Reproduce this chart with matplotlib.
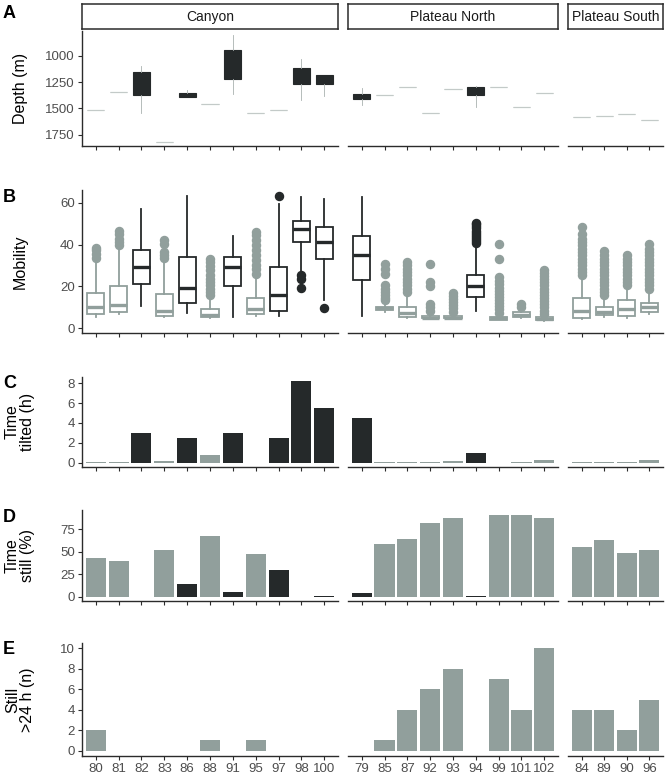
import matplotlib
matplotlib.use('Agg')
import matplotlib.pyplot as plt

plt.rcParams['font.family'] = ['Liberation Sans', 'DejaVu Sans']

# ---------------- data ----------------
regions = ['Canyon', 'Plateau North', 'Plateau South']
region_sizes = [11, 9, 4]
ids = [80, 81, 82, 83, 86, 88, 91, 95, 97, 98, 100,
       79, 85, 87, 92, 93, 94, 99, 101, 102,
       84, 89, 90, 96]
tilted = [0, 0, 1, 0, 1, 0, 1, 0, 1, 1, 1,
          1, 0, 0, 0, 0, 1, 0, 0, 0,
          0, 0, 0, 0]

# depth (m): whisker low, q1, median, q3, whisker high
depth_lo = [1513, 1346, 1094, 1819, 1324, 1459, 804, 1539, 1513, 1034, 1180,
            1308, 1374, 1293, 1539, 1318, 1285, 1299, 1488, 1350,
            1582, 1577, 1554, 1608]
depth_q1 = [1513, 1346, 1157, 1819, 1353, 1459, 946, 1539, 1513, 1113, 1182,
            1365, 1374, 1293, 1539, 1318, 1293, 1299, 1488, 1350,
            1582, 1577, 1554, 1608]
depth_med = [1513, 1346, 1260, 1819, 1370, 1459, 1100, 1539, 1513, 1190, 1220,
             1390, 1374, 1293, 1539, 1318, 1330, 1299, 1488, 1350,
             1582, 1577, 1554, 1608]
depth_q3 = [1513, 1346, 1371, 1819, 1390, 1459, 1220, 1539, 1513, 1270, 1267,
            1409, 1374, 1293, 1539, 1318, 1371, 1299, 1488, 1350,
            1582, 1577, 1554, 1608]
depth_hi = [1513, 1346, 1545, 1819, 1395, 1459, 1365, 1539, 1513, 1419, 1378,
            1466, 1374, 1293, 1539, 1318, 1482, 1299, 1488, 1350,
            1582, 1577, 1554, 1608]

# mobility
mob_lo = [5.5, 7.0, 10.6, 5.5, 7.4, 5.0, 5.3, 6.0, 6.0, 26.1, 13.3,
          6.1, 8.0, 5.0, 4.5, 4.5, 8.5, 4.0, 5.0, 3.7,
          4.5, 5.5, 5.0, 7.0]
mob_q1 = [6.7, 8.0, 21.0, 6.0, 11.9, 5.3, 20.0, 6.9, 8.2, 41.1, 33.0,
          23.2, 8.8, 5.6, 4.7, 4.7, 14.9, 4.2, 5.3, 4.0,
          5.0, 6.4, 5.8, 7.7]
mob_med = [10.4, 10.9, 29.1, 8.2, 19.2, 6.2, 29.1, 9.1, 16.0, 47.4, 41.3,
           35.2, 9.6, 7.2, 5.0, 5.0, 20.4, 4.8, 6.5, 4.5,
           8.2, 7.7, 9.3, 10.4]
mob_q3 = [17.0, 20.2, 37.2, 16.3, 34.1, 9.1, 34.3, 14.3, 29.1, 51.2, 48.2,
          44.0, 10.4, 10.4, 6.1, 6.1, 25.3, 5.6, 7.9, 5.3,
          14.4, 10.4, 13.6, 12.2]
mob_hi = [32.5, 37.3, 57.0, 32.5, 63.1, 14.2, 43.9, 23.7, 59.2, 62.9, 61.9,
          62.9, 12.5, 15.7, 7.5, 7.0, 39.7, 6.5, 9.0, 6.0,
          23.7, 14.1, 18.9, 17.3]
mob_out = [
    [33.8, 35.7, 37.3, 38.6],
    [39.7, 41.3, 42.9, 45.0, 46.6],
    [],
    [33.8, 35.2, 36.5, 40.5, 42.1],
    [],
    [15.7, 17.3, 18.9, 20.5, 22.1, 23.7, 25.3, 27.7, 29.6, 31.7, 33.3],
    [],
    [26.1, 28.5, 30.1, 32.5, 34.9, 37.3, 39.7, 42.1, 44.5, 46.1],
    [63.4],
    [19.2, 23.7, 25.3],
    [9.8],
    [],
    [13.5, 14.5, 15.7, 17.3, 18.9, 20.5, 26.1, 28.5, 30.9],
    [17.3, 18.9, 20.5, 22.1, 23.7, 25.3, 26.9, 28.5, 30.1, 31.7],
    [8.5, 10.1, 11.7, 20.0, 22.1, 30.9],
    [8.0, 9.5, 11.0, 12.5, 14.0, 15.5, 17.0],
    [40.7, 41.7, 42.7, 43.7, 44.7, 45.7, 46.7, 47.7, 48.7, 49.7, 50.1],
    [7.5, 9.0, 10.5, 12.0, 13.5, 15.0, 16.5, 18.0, 19.5, 21.0, 22.5, 24.5, 33.1, 40.2],
    [10.1, 11.7],
    [7.0, 8.5, 10.0, 11.5, 13.0, 14.5, 16.0, 17.5, 19.0, 20.5, 22.0, 23.5, 25.0, 26.5, 27.7],
    [25.3, 26.9, 28.5, 30.1, 31.7, 33.3, 34.9, 36.5, 38.1, 39.7, 41.3, 42.9, 45.3, 48.5],
    [15.7, 17.3, 18.9, 20.5, 22.1, 23.7, 25.3, 26.9, 28.5, 30.1, 31.7, 33.3, 34.9, 37.0],
    [20.5, 22.1, 23.7, 25.3, 26.9, 28.5, 30.1, 31.7, 33.3, 34.9],
    [18.9, 20.5, 22.1, 23.7, 25.3, 26.9, 28.5, 30.1, 31.7, 33.3, 34.9, 36.5, 38.1, 40.5],
]

time_tilted = [0.1, 0.02, 3.0, 0.2, 2.5, 0.75, 3.0, 0.0, 2.5, 8.2, 5.5,
               4.5, 0.08, 0.03, 0.03, 0.15, 1.0, 0.0, 0.03, 0.25,
               0.1, 0.1, 0.03, 0.3]
time_still = [43, 40, 0, 52.5, 14.7, 67.5, 5.5, 47.7, 29.7, 0, 1.0,
              4.8, 58.7, 64.6, 82.2, 87.3, 0.8, 90.7, 91.0, 87.3,
              55.4, 63.5, 49.2, 51.8]
still_24h = [2, 0, 0, 0, 0, 1, 0, 1, 0, 0, 0,
             0, 1, 4, 6, 8, 0, 7, 4, 10,
             4, 4, 2, 5]

# ---------------- style ----------------
DARK = '#25292a'
GREY = '#919f9c'
LIGHT = '#c3cac8'
AXC = '#2b2b2b'
TICKC = '#4d4d4d'

W, H = 666, 777
fig = plt.figure(figsize=(W / 100, H / 100), dpi=100)

col_px = [(82, 338), (348, 558), (568, 663)]
row_px = {'A': (31.5, 145.7), 'B': (190, 332.7), 'C': (377.3, 466.7),
          'D': (510, 601), 'E': (643.3, 755.7)}
row_titles = {'A': 'Depth (m)', 'B': 'Mobility', 'C': 'Time\ntilted (h)',
              'D': 'Time\nstill (%)', 'E': 'Still\n>24 h (n)'}
row_ylim = {'A': (1855, 768), 'B': (-2.1, 66.1), 'C': (-0.41, 8.6),
            'D': (-4.6, 96.6), 'E': (-0.5, 10.5)}
row_yticks = {'A': [1000, 1250, 1500, 1750], 'B': [0, 20, 40, 60],
              'C': [0, 2, 4, 6, 8], 'D': [0, 25, 50, 75],
              'E': [0, 2, 4, 6, 8, 10]}


def rect(x0, x1, y0, y1):
    return [x0 / W, 1 - y1 / H, (x1 - x0) / W, (y1 - y0) / H]


starts = [0, 11, 20]

for row in ['A', 'B', 'C', 'D', 'E']:
    y0, y1 = row_px[row]
    for ci, (x0, x1) in enumerate(col_px):
        n = region_sizes[ci]
        s = starts[ci]
        idx = list(range(s, s + n))
        ax = fig.add_axes(rect(x0, x1, y0, y1))

        if row == 'A':
            for k, i in enumerate(idx):
                st = dict(med=depth_med[i], q1=depth_q1[i], q3=depth_q3[i],
                          whislo=depth_lo[i], whishi=depth_hi[i], fliers=[])
                if depth_q3[i] > depth_q1[i]:
                    fc = DARK; ec = DARK
                else:
                    fc = LIGHT; ec = LIGHT
                ax.bxp([st], positions=[k], widths=0.75, patch_artist=True,
                       showcaps=False, showfliers=False, manage_ticks=False,
                       boxprops=dict(facecolor=fc, edgecolor=ec, linewidth=0.8),
                       whiskerprops=dict(color='#aab2b0', linewidth=0.6),
                       medianprops=dict(color=ec, linewidth=0.8))
        elif row == 'B':
            for k, i in enumerate(idx):
                c = DARK if tilted[i] else GREY
                st = dict(med=mob_med[i], q1=mob_q1[i], q3=mob_q3[i],
                          whislo=mob_lo[i], whishi=mob_hi[i], fliers=mob_out[i])
                ax.bxp([st], positions=[k], widths=0.75, patch_artist=True,
                       showcaps=False, showfliers=True, manage_ticks=False,
                       boxprops=dict(facecolor='white', edgecolor=c, linewidth=1.3),
                       whiskerprops=dict(color=c, linewidth=1.3),
                       medianprops=dict(color=c, linewidth=2.4, solid_capstyle='butt'),
                       flierprops=dict(marker='o', markerfacecolor=c,
                                       markeredgecolor=c, markersize=5.8))
        else:
            vals = {'C': time_tilted, 'D': time_still, 'E': still_24h}[row]
            cols = [DARK if tilted[i] else GREY for i in idx]
            ax.bar(range(n), [vals[i] for i in idx], width=0.88, color=cols,
                   edgecolor='none', linewidth=0)

        ax.set_xlim(-0.6, n - 0.4)
        ax.set_ylim(*row_ylim[row])
        for sp in ['top', 'right']:
            ax.spines[sp].set_visible(False)
        ax.spines['bottom'].set_color(AXC)
        ax.spines['bottom'].set_linewidth(1.0)
        if ci == 0:
            ax.spines['left'].set_color(AXC)
            ax.spines['left'].set_linewidth(1.0)
            ax.set_yticks(row_yticks[row])
        else:
            ax.spines['left'].set_visible(False)
            ax.set_yticks([])
        ax.set_xticks(range(n))
        if row == 'E':
            ax.set_xticklabels([str(ids[i]) for i in idx])
        else:
            ax.set_xticklabels([])
        ax.tick_params(axis='both', length=3.2, width=0.8, color=AXC,
                       labelsize=9.5, labelcolor=TICKC, pad=2)

        if row == 'A':
            sax = fig.add_axes(rect(x0, x1, 4, 29.3))
            sax.set_xticks([]); sax.set_yticks([])
            for sp in sax.spines.values():
                sp.set_color(AXC); sp.set_linewidth(1.1)
            sax.text(0.5, 0.5, regions[ci], ha='center', va='center',
                     fontsize=10, color='#1a1a1a', transform=sax.transAxes)

    yc = 1 - (y0 + y1) / 2 / H
    fig.text(20 / W, yc, row_titles[row], rotation=90, ha='center', va='center',
             fontsize=11.5, color='black', linespacing=1.0)

letter_y = {'A': 13.7, 'B': 197.5, 'C': 384, 'D': 517, 'E': 650}
for L, yy in letter_y.items():
    fig.text(3 / W, 1 - yy / H, L, fontsize=13, fontweight='bold',
             ha='left', va='center', color='black')

fig.savefig('out.png', dpi=100)
